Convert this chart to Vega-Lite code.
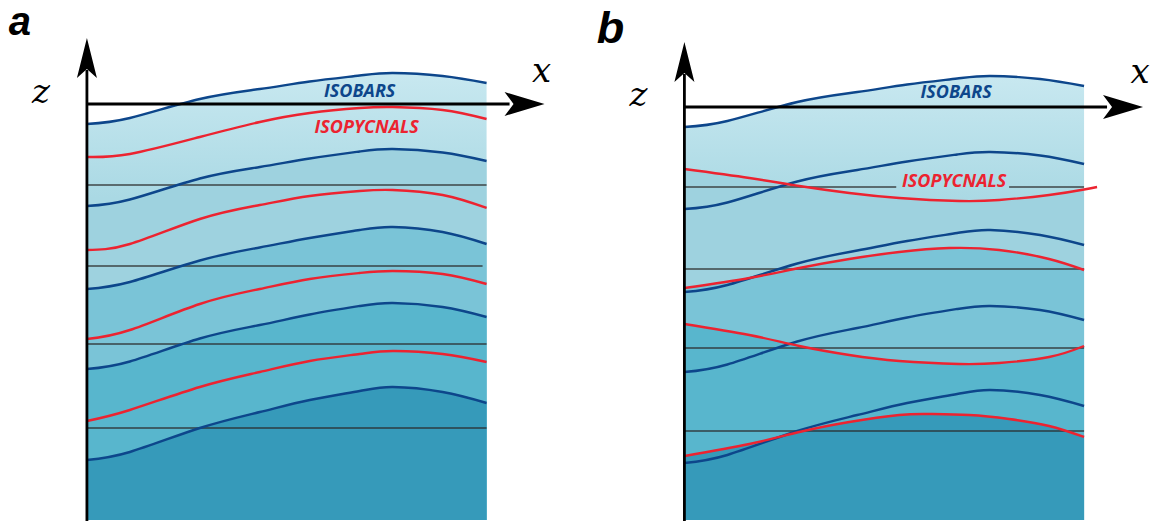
{
  "$schema": "https://vega.github.io/schema/vega-lite/v6.json",
  "width": 1150,
  "height": 523,
  "autosize": {"type": "fit", "contains": "padding"},
  "padding": 0,
  "background": "white",
  "config": {"view": {"stroke": null}},
  "datasets": {
    "curves": [
      {"curve": "a-p1", "kind": "isobar", "band": "a1", "x": 87, "z": 124},
      {"curve": "a-p1", "kind": "isobar", "band": "a1", "x": 130, "z": 118},
      {"curve": "a-p1", "kind": "isobar", "band": "a1", "x": 200, "z": 99},
      {"curve": "a-p1", "kind": "isobar", "band": "a1", "x": 260, "z": 89},
      {"curve": "a-p1", "kind": "isobar", "band": "a1", "x": 310, "z": 81.5},
      {"curve": "a-p1", "kind": "isobar", "band": "a1", "x": 360, "z": 75.5},
      {"curve": "a-p1", "kind": "isobar", "band": "a1", "x": 393, "z": 73},
      {"curve": "a-p1", "kind": "isobar", "band": "a1", "x": 443, "z": 76},
      {"curve": "a-p1", "kind": "isobar", "band": "a1", "x": 487, "z": 83},

      {"curve": "a-p2", "kind": "isobar", "band": "a2", "x": 87, "z": 206},
      {"curve": "a-p2", "kind": "isobar", "band": "a2", "x": 130, "z": 199.5},
      {"curve": "a-p2", "kind": "isobar", "band": "a2", "x": 200, "z": 178.5},
      {"curve": "a-p2", "kind": "isobar", "band": "a2", "x": 260, "z": 167},
      {"curve": "a-p2", "kind": "isobar", "band": "a2", "x": 310, "z": 158.5},
      {"curve": "a-p2", "kind": "isobar", "band": "a2", "x": 360, "z": 151.5},
      {"curve": "a-p2", "kind": "isobar", "band": "a2", "x": 393, "z": 149},
      {"curve": "a-p2", "kind": "isobar", "band": "a2", "x": 443, "z": 152.5},
      {"curve": "a-p2", "kind": "isobar", "band": "a2", "x": 487, "z": 161},

      {"curve": "a-p3", "kind": "isobar", "band": "a3", "x": 87, "z": 289},
      {"curve": "a-p3", "kind": "isobar", "band": "a3", "x": 130, "z": 282},
      {"curve": "a-p3", "kind": "isobar", "band": "a3", "x": 200, "z": 260.5},
      {"curve": "a-p3", "kind": "isobar", "band": "a3", "x": 260, "z": 247.5},
      {"curve": "a-p3", "kind": "isobar", "band": "a3", "x": 310, "z": 238},
      {"curve": "a-p3", "kind": "isobar", "band": "a3", "x": 360, "z": 230},
      {"curve": "a-p3", "kind": "isobar", "band": "a3", "x": 393, "z": 227},
      {"curve": "a-p3", "kind": "isobar", "band": "a3", "x": 443, "z": 232},
      {"curve": "a-p3", "kind": "isobar", "band": "a3", "x": 487, "z": 244},

      {"curve": "a-p4", "kind": "isobar", "band": "a4", "x": 87, "z": 369},
      {"curve": "a-p4", "kind": "isobar", "band": "a4", "x": 130, "z": 361.5},
      {"curve": "a-p4", "kind": "isobar", "band": "a4", "x": 200, "z": 338.5},
      {"curve": "a-p4", "kind": "isobar", "band": "a4", "x": 260, "z": 325},
      {"curve": "a-p4", "kind": "isobar", "band": "a4", "x": 310, "z": 314.5},
      {"curve": "a-p4", "kind": "isobar", "band": "a4", "x": 360, "z": 306},
      {"curve": "a-p4", "kind": "isobar", "band": "a4", "x": 393, "z": 303},
      {"curve": "a-p4", "kind": "isobar", "band": "a4", "x": 443, "z": 307},
      {"curve": "a-p4", "kind": "isobar", "band": "a4", "x": 487, "z": 317},

      {"curve": "a-p5", "kind": "isobar", "band": "a5", "x": 87, "z": 460},
      {"curve": "a-p5", "kind": "isobar", "band": "a5", "x": 130, "z": 452},
      {"curve": "a-p5", "kind": "isobar", "band": "a5", "x": 200, "z": 428},
      {"curve": "a-p5", "kind": "isobar", "band": "a5", "x": 260, "z": 412},
      {"curve": "a-p5", "kind": "isobar", "band": "a5", "x": 310, "z": 400},
      {"curve": "a-p5", "kind": "isobar", "band": "a5", "x": 360, "z": 391},
      {"curve": "a-p5", "kind": "isobar", "band": "a5", "x": 393, "z": 387},
      {"curve": "a-p5", "kind": "isobar", "band": "a5", "x": 443, "z": 392},
      {"curve": "a-p5", "kind": "isobar", "band": "a5", "x": 487, "z": 403},

      {"curve": "a-r1", "kind": "isopycnal", "x": 87, "z": 157},
      {"curve": "a-r1", "kind": "isopycnal", "x": 130, "z": 154},
      {"curve": "a-r1", "kind": "isopycnal", "x": 200, "z": 137},
      {"curve": "a-r1", "kind": "isopycnal", "x": 260, "z": 122},
      {"curve": "a-r1", "kind": "isopycnal", "x": 310, "z": 113},
      {"curve": "a-r1", "kind": "isopycnal", "x": 360, "z": 108},
      {"curve": "a-r1", "kind": "isopycnal", "x": 393, "z": 107},
      {"curve": "a-r1", "kind": "isopycnal", "x": 443, "z": 110},
      {"curve": "a-r1", "kind": "isopycnal", "x": 487, "z": 119},

      {"curve": "a-r2", "kind": "isopycnal", "x": 87, "z": 250},
      {"curve": "a-r2", "kind": "isopycnal", "x": 130, "z": 244},
      {"curve": "a-r2", "kind": "isopycnal", "x": 200, "z": 219},
      {"curve": "a-r2", "kind": "isopycnal", "x": 260, "z": 205},
      {"curve": "a-r2", "kind": "isopycnal", "x": 310, "z": 196},
      {"curve": "a-r2", "kind": "isopycnal", "x": 360, "z": 191},
      {"curve": "a-r2", "kind": "isopycnal", "x": 393, "z": 190},
      {"curve": "a-r2", "kind": "isopycnal", "x": 443, "z": 195},
      {"curve": "a-r2", "kind": "isopycnal", "x": 487, "z": 208},

      {"curve": "a-r3", "kind": "isopycnal", "x": 87, "z": 339},
      {"curve": "a-r3", "kind": "isopycnal", "x": 130, "z": 330},
      {"curve": "a-r3", "kind": "isopycnal", "x": 200, "z": 304},
      {"curve": "a-r3", "kind": "isopycnal", "x": 260, "z": 289},
      {"curve": "a-r3", "kind": "isopycnal", "x": 310, "z": 279},
      {"curve": "a-r3", "kind": "isopycnal", "x": 360, "z": 273},
      {"curve": "a-r3", "kind": "isopycnal", "x": 393, "z": 271},
      {"curve": "a-r3", "kind": "isopycnal", "x": 443, "z": 274},
      {"curve": "a-r3", "kind": "isopycnal", "x": 487, "z": 284},

      {"curve": "a-r4", "kind": "isopycnal", "x": 87, "z": 421},
      {"curve": "a-r4", "kind": "isopycnal", "x": 130, "z": 410},
      {"curve": "a-r4", "kind": "isopycnal", "x": 200, "z": 387},
      {"curve": "a-r4", "kind": "isopycnal", "x": 260, "z": 372},
      {"curve": "a-r4", "kind": "isopycnal", "x": 310, "z": 361},
      {"curve": "a-r4", "kind": "isopycnal", "x": 360, "z": 354},
      {"curve": "a-r4", "kind": "isopycnal", "x": 393, "z": 351},
      {"curve": "a-r4", "kind": "isopycnal", "x": 443, "z": 354},
      {"curve": "a-r4", "kind": "isopycnal", "x": 487, "z": 362},

      {"curve": "b-p1", "kind": "isobar", "band": "b1", "x": 685, "z": 127},
      {"curve": "b-p1", "kind": "isobar", "band": "b1", "x": 728, "z": 121},
      {"curve": "b-p1", "kind": "isobar", "band": "b1", "x": 798, "z": 102},
      {"curve": "b-p1", "kind": "isobar", "band": "b1", "x": 858, "z": 92},
      {"curve": "b-p1", "kind": "isobar", "band": "b1", "x": 908, "z": 84.5},
      {"curve": "b-p1", "kind": "isobar", "band": "b1", "x": 958, "z": 78.5},
      {"curve": "b-p1", "kind": "isobar", "band": "b1", "x": 991, "z": 76},
      {"curve": "b-p1", "kind": "isobar", "band": "b1", "x": 1041, "z": 79},
      {"curve": "b-p1", "kind": "isobar", "band": "b1", "x": 1085, "z": 86},

      {"curve": "b-p2", "kind": "isobar", "x": 685, "z": 209},
      {"curve": "b-p2", "kind": "isobar", "x": 728, "z": 202.5},
      {"curve": "b-p2", "kind": "isobar", "x": 798, "z": 181.5},
      {"curve": "b-p2", "kind": "isobar", "x": 858, "z": 170},
      {"curve": "b-p2", "kind": "isobar", "x": 908, "z": 161.5},
      {"curve": "b-p2", "kind": "isobar", "x": 958, "z": 154.5},
      {"curve": "b-p2", "kind": "isobar", "x": 991, "z": 152},
      {"curve": "b-p2", "kind": "isobar", "x": 1041, "z": 155.5},
      {"curve": "b-p2", "kind": "isobar", "x": 1085, "z": 164},

      {"curve": "b-p3", "kind": "isobar", "x": 685, "z": 292},
      {"curve": "b-p3", "kind": "isobar", "x": 728, "z": 285},
      {"curve": "b-p3", "kind": "isobar", "x": 798, "z": 263.5},
      {"curve": "b-p3", "kind": "isobar", "x": 858, "z": 250.5},
      {"curve": "b-p3", "kind": "isobar", "x": 908, "z": 241},
      {"curve": "b-p3", "kind": "isobar", "x": 958, "z": 233},
      {"curve": "b-p3", "kind": "isobar", "x": 991, "z": 230},
      {"curve": "b-p3", "kind": "isobar", "x": 1041, "z": 235},
      {"curve": "b-p3", "kind": "isobar", "x": 1085, "z": 245},

      {"curve": "b-p4", "kind": "isobar", "x": 685, "z": 372},
      {"curve": "b-p4", "kind": "isobar", "x": 728, "z": 364.5},
      {"curve": "b-p4", "kind": "isobar", "x": 798, "z": 341.5},
      {"curve": "b-p4", "kind": "isobar", "x": 858, "z": 328},
      {"curve": "b-p4", "kind": "isobar", "x": 908, "z": 317.5},
      {"curve": "b-p4", "kind": "isobar", "x": 958, "z": 309},
      {"curve": "b-p4", "kind": "isobar", "x": 991, "z": 306},
      {"curve": "b-p4", "kind": "isobar", "x": 1041, "z": 310},
      {"curve": "b-p4", "kind": "isobar", "x": 1085, "z": 320},

      {"curve": "b-p5", "kind": "isobar", "x": 685, "z": 463},
      {"curve": "b-p5", "kind": "isobar", "x": 728, "z": 455},
      {"curve": "b-p5", "kind": "isobar", "x": 798, "z": 431},
      {"curve": "b-p5", "kind": "isobar", "x": 858, "z": 415},
      {"curve": "b-p5", "kind": "isobar", "x": 908, "z": 403},
      {"curve": "b-p5", "kind": "isobar", "x": 958, "z": 394},
      {"curve": "b-p5", "kind": "isobar", "x": 991, "z": 390},
      {"curve": "b-p5", "kind": "isobar", "x": 1041, "z": 395},
      {"curve": "b-p5", "kind": "isobar", "x": 1085, "z": 406},

      {"curve": "b-r1", "kind": "isopycnal", "band": "b2", "x": 685, "z": 169},
      {"curve": "b-r1", "kind": "isopycnal", "band": "b2", "x": 750, "z": 178},
      {"curve": "b-r1", "kind": "isopycnal", "band": "b2", "x": 800, "z": 186},
      {"curve": "b-r1", "kind": "isopycnal", "band": "b2", "x": 850, "z": 193},
      {"curve": "b-r1", "kind": "isopycnal", "band": "b2", "x": 900, "z": 198},
      {"curve": "b-r1", "kind": "isopycnal", "band": "b2", "x": 960, "z": 201},
      {"curve": "b-r1", "kind": "isopycnal", "band": "b2", "x": 1000, "z": 200},
      {"curve": "b-r1", "kind": "isopycnal", "band": "b2", "x": 1050, "z": 195},
      {"curve": "b-r1", "kind": "isopycnal", "band": "b2", "x": 1085, "z": 189.5},
      {"curve": "b-r1", "kind": "isopycnal", "band": "b2", "x": 1098, "z": 187},

      {"curve": "b-r2", "kind": "isopycnal", "band": "b3", "x": 685, "z": 288},
      {"curve": "b-r2", "kind": "isopycnal", "band": "b3", "x": 750, "z": 278},
      {"curve": "b-r2", "kind": "isopycnal", "band": "b3", "x": 800, "z": 268},
      {"curve": "b-r2", "kind": "isopycnal", "band": "b3", "x": 850, "z": 259},
      {"curve": "b-r2", "kind": "isopycnal", "band": "b3", "x": 900, "z": 252},
      {"curve": "b-r2", "kind": "isopycnal", "band": "b3", "x": 950, "z": 248},
      {"curve": "b-r2", "kind": "isopycnal", "band": "b3", "x": 1000, "z": 250},
      {"curve": "b-r2", "kind": "isopycnal", "band": "b3", "x": 1050, "z": 259},
      {"curve": "b-r2", "kind": "isopycnal", "band": "b3", "x": 1085, "z": 270},

      {"curve": "b-r3", "kind": "isopycnal", "band": "b4", "x": 685, "z": 324},
      {"curve": "b-r3", "kind": "isopycnal", "band": "b4", "x": 750, "z": 335},
      {"curve": "b-r3", "kind": "isopycnal", "band": "b4", "x": 800, "z": 346},
      {"curve": "b-r3", "kind": "isopycnal", "band": "b4", "x": 850, "z": 355},
      {"curve": "b-r3", "kind": "isopycnal", "band": "b4", "x": 900, "z": 361},
      {"curve": "b-r3", "kind": "isopycnal", "band": "b4", "x": 960, "z": 364},
      {"curve": "b-r3", "kind": "isopycnal", "band": "b4", "x": 1000, "z": 363},
      {"curve": "b-r3", "kind": "isopycnal", "band": "b4", "x": 1050, "z": 357},
      {"curve": "b-r3", "kind": "isopycnal", "band": "b4", "x": 1085, "z": 346},

      {"curve": "b-r4", "kind": "isopycnal", "band": "b5", "x": 685, "z": 456},
      {"curve": "b-r4", "kind": "isopycnal", "band": "b5", "x": 750, "z": 444},
      {"curve": "b-r4", "kind": "isopycnal", "band": "b5", "x": 800, "z": 432},
      {"curve": "b-r4", "kind": "isopycnal", "band": "b5", "x": 850, "z": 422},
      {"curve": "b-r4", "kind": "isopycnal", "band": "b5", "x": 900, "z": 415},
      {"curve": "b-r4", "kind": "isopycnal", "band": "b5", "x": 930, "z": 414},
      {"curve": "b-r4", "kind": "isopycnal", "band": "b5", "x": 970, "z": 415},
      {"curve": "b-r4", "kind": "isopycnal", "band": "b5", "x": 1010, "z": 419},
      {"curve": "b-r4", "kind": "isopycnal", "band": "b5", "x": 1050, "z": 426},
      {"curve": "b-r4", "kind": "isopycnal", "band": "b5", "x": 1085, "z": 437}
    ],
    "guides": [
      {"x": 87, "x2": 487, "z": 185},
      {"x": 87, "x2": 483, "z": 266},
      {"x": 87, "x2": 487, "z": 344},
      {"x": 87, "x2": 487, "z": 428},
      {"x": 685, "x2": 897, "z": 187},
      {"x": 1010, "x2": 1085, "z": 187},
      {"x": 685, "x2": 1085, "z": 269},
      {"x": 685, "x2": 1085, "z": 348},
      {"x": 685, "x2": 1085, "z": 431}
    ],
    "axes": [
      {"x": 87, "x2": 87, "z": 70, "z2": 521},
      {"x": 87, "x2": 510, "z": 104, "z2": 104},
      {"x": 685, "x2": 685, "z": 74, "z2": 521},
      {"x": 685, "x2": 1108, "z": 107, "z2": 107}
    ],
    "arrows": [
      {"dir": "up", "x": 87, "z": 58},
      {"dir": "right", "x": 525, "z": 104},
      {"dir": "up", "x": 685, "z": 62},
      {"dir": "right", "x": 1124, "z": 107}
    ],
    "labels": [
      {"kind": "panel-a", "text": "a", "x": 20, "z": 35},
      {"kind": "panel-b", "text": "b", "x": 611, "z": 43},
      {"kind": "axis", "text": "z", "x": 41, "z": 103},
      {"kind": "axis", "text": "x", "x": 542, "z": 82},
      {"kind": "axis", "text": "z", "x": 639, "z": 106},
      {"kind": "axis", "text": "x", "x": 1141, "z": 83},
      {"kind": "isobar", "text": "ISOBARS", "x": 360, "z": 97},
      {"kind": "isopycnal", "text": "ISOPYCNALS", "x": 367, "z": 133},
      {"kind": "isobar", "text": "ISOBARS", "x": 957, "z": 98},
      {"kind": "isopycnal", "text": "ISOPYCNALS", "x": 955, "z": 187}
    ]
  },
  "encoding": {
    "x": {"field": "x", "type": "quantitative", "scale": {"domain": [0, 1150], "nice": false, "zero": false}, "axis": null},
    "y": {"field": "z", "type": "quantitative", "scale": {"domain": [0, 523], "nice": false, "zero": false, "reverse": true}, "axis": null}
  },
  "layer": [
    {
      "data": {"name": "curves"},
      "transform": [{"filter": "(datum.band == 'a1' || datum.band == 'b1') && datum.x <= 1085"}],
      "mark": {
        "type": "area", "interpolate": "natural",
        "fill": {"gradient": "linear", "x1": 0, "y1": 0, "x2": 0, "y2": 1,
          "stops": [{"offset": 0, "color": "#c8e8f0"}, {"offset": 0.28, "color": "#aad9e4"}, {"offset": 1, "color": "#aad9e4"}]}
      },
      "encoding": {"y2": {"datum": 520}, "detail": {"field": "band", "type": "nominal"}}
    },
    {
      "data": {"name": "curves"},
      "transform": [{"filter": "datum.band != null && datum.band != 'a1' && datum.band != 'b1' && datum.x <= 1085"}],
      "mark": {"type": "area", "interpolate": "natural"},
      "encoding": {
        "y2": {"datum": 520},
        "fill": {
          "field": "band", "type": "nominal", "legend": null,
          "scale": {
            "domain": ["a2", "a3", "a4", "a5", "b2", "b3", "b4", "b5"],
            "range": ["#9ed2df", "#7ac4d7", "#58b6cd", "#369aba", "#9ed2df", "#7ac4d7", "#58b6cd", "#369aba"]
          }
        }
      }
    },
    {
      "data": {"name": "guides"},
      "mark": {"type": "rule", "color": "#2b2b2b", "strokeWidth": 1.3, "opacity": 0.85},
      "encoding": {"x2": {"field": "x2"}}
    },
    {
      "data": {"name": "curves"},
      "transform": [{"filter": "datum.kind == 'isobar'"}],
      "mark": {"type": "line", "interpolate": "natural", "color": "#0d468b", "strokeWidth": 2.4},
      "encoding": {"detail": {"field": "curve", "type": "nominal"}}
    },
    {
      "data": {"name": "curves"},
      "transform": [{"filter": "datum.kind == 'isopycnal'"}],
      "mark": {"type": "line", "interpolate": "natural", "color": "#ec2330", "strokeWidth": 2.4},
      "encoding": {"detail": {"field": "curve", "type": "nominal"}}
    },
    {
      "data": {"name": "axes"},
      "mark": {"type": "rule", "color": "black", "strokeWidth": 2.8},
      "encoding": {"x2": {"field": "x2"}, "y2": {"field": "z2"}}
    },
    {
      "data": {"name": "arrows"},
      "mark": {"type": "point", "filled": true, "color": "black", "opacity": 1, "size": 1600, "strokeWidth": 0},
      "encoding": {
        "shape": {
          "field": "dir", "type": "nominal", "legend": null,
          "scale": {"domain": ["up", "right"], "range": ["M0,-1L0.5,1L0,0.55L-0.5,1Z", "M1,0L-1,0.6L-0.55,0L-1,-0.6Z"]}
        }
      }
    },
    {
      "data": {"name": "labels"},
      "transform": [{"filter": "datum.kind == 'panel-a'"}],
      "mark": {"type": "text", "font": "Liberation Sans", "fontWeight": "bold", "fontStyle": "italic", "fontSize": 40, "align": "center", "baseline": "alphabetic", "color": "black"},
      "encoding": {"text": {"field": "text"}}
    },
    {
      "data": {"name": "labels"},
      "transform": [{"filter": "datum.kind == 'panel-b'"}],
      "mark": {"type": "text", "font": "Liberation Sans", "fontWeight": "bold", "fontStyle": "italic", "fontSize": 45, "align": "center", "baseline": "alphabetic", "color": "black"},
      "encoding": {"text": {"field": "text"}}
    },
    {
      "data": {"name": "labels"},
      "transform": [{"filter": "datum.kind == 'axis'"}],
      "mark": {"type": "text", "font": "DejaVu Serif", "fontStyle": "italic", "fontSize": 34, "align": "center", "baseline": "alphabetic", "color": "black"},
      "encoding": {"text": {"field": "text"}}
    },
    {
      "data": {"name": "labels"},
      "transform": [{"filter": "datum.kind == 'isobar'"}],
      "mark": {"type": "text", "font": "Open Sans", "fontWeight": "bold", "fontStyle": "italic", "fontSize": 18, "align": "center", "baseline": "alphabetic", "color": "#0d468b"},
      "encoding": {"text": {"field": "text"}}
    },
    {
      "data": {"name": "labels"},
      "transform": [{"filter": "datum.kind == 'isopycnal'"}],
      "mark": {"type": "text", "font": "Open Sans", "fontWeight": "bold", "fontStyle": "italic", "fontSize": 18, "align": "center", "baseline": "alphabetic", "color": "#ec2330"},
      "encoding": {"text": {"field": "text"}}
    }
  ]
}
